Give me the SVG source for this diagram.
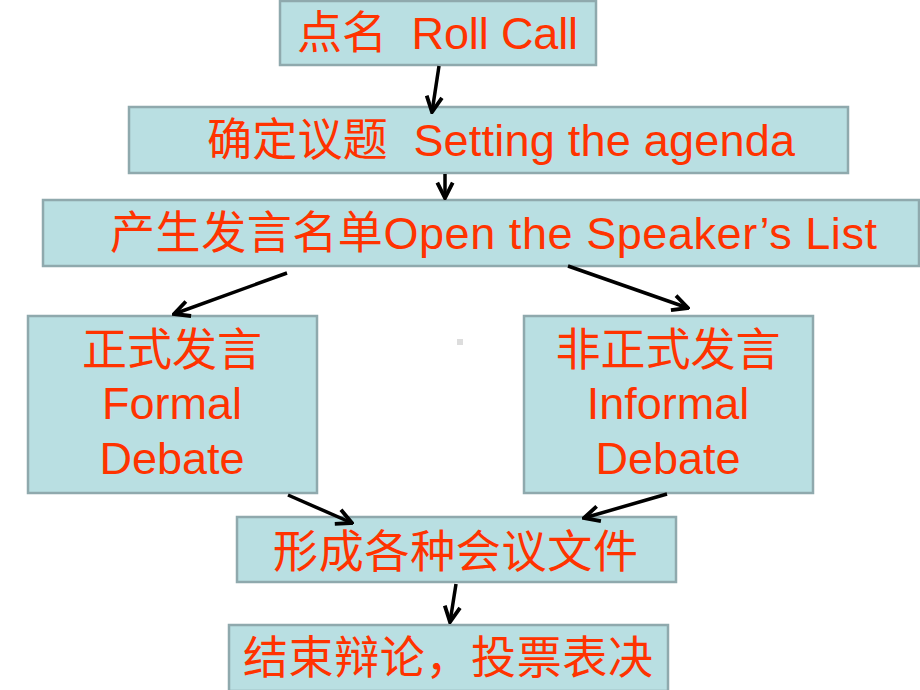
<svg xmlns="http://www.w3.org/2000/svg" width="920" height="690" viewBox="0 0 920 690">
<defs>
<style>
.box{fill:#B9DFE2;stroke:#8FA9AD;stroke-width:2.5}
.t{fill:#FF3300;font-family:"Liberation Sans","Noto Sans CJK SC",sans-serif;font-size:45px;white-space:pre}
.c{text-anchor:middle}
.arr{stroke:#000;stroke-width:3.5;fill:none;marker-end:url(#ah)}
</style>
<marker id="ah" viewBox="0 0 10 10" refX="9" refY="5" markerWidth="5.5" markerHeight="5.5" orient="auto" markerUnits="strokeWidth">
<path d="M1,1 L9,5 L1,9" fill="none" stroke="#000" stroke-width="2"/>
</marker>
</defs>
<rect width="920" height="690" fill="#fff"/>
<rect x="457" y="339" width="6" height="6" fill="#DDDDDD"/>
<g id="n1"><rect class="box" x="280" y="1" width="316" height="64"/><text class="t" x="297" y="49" textLength="281" xml:space="preserve">点名  Roll Call</text></g>
<g id="n2"><rect class="box" x="129" y="107" width="719" height="66"/><text class="t" x="207" y="156" textLength="588" xml:space="preserve">确定议题  Setting the agenda</text></g>
<g id="n3"><rect class="box" x="43" y="200" width="876" height="66"/><text class="t" x="110" y="249" textLength="767">产生发言名单Open the Speaker’s List</text></g>
<g id="n4"><rect class="box" x="28" y="316" width="289" height="177"/><text class="t c" x="172" y="366">正式发言</text><text class="t c" x="172" y="419">Formal</text><text class="t c" x="172" y="474">Debate</text></g>
<g id="n5"><rect class="box" x="524" y="316" width="289" height="177"/><text class="t c" x="668" y="366">非正式发言</text><text class="t c" x="668" y="419">Informal</text><text class="t c" x="668" y="474">Debate</text></g>
<g id="n6"><rect class="box" x="237" y="517" width="439" height="65"/><text class="t" x="273" y="568" textLength="365">形成各种会议文件</text></g>
<g id="n7"><rect class="box" x="229" y="625" width="439" height="66"/><text class="t" x="243" y="674" textLength="410">结束辩论，投票表决</text></g>
<g id="edges">
<line class="arr" x1="439" y1="66" x2="432" y2="112"/>
<line class="arr" x1="445" y1="174" x2="445" y2="198"/>
<line class="arr" x1="287" y1="273" x2="174" y2="314"/>
<line class="arr" x1="568" y1="266" x2="688" y2="308"/>
<line class="arr" x1="288" y1="495" x2="352" y2="523"/>
<line class="arr" x1="667" y1="494" x2="584" y2="518"/>
<line class="arr" x1="456" y1="584" x2="450" y2="622"/>
</g>
</svg>
